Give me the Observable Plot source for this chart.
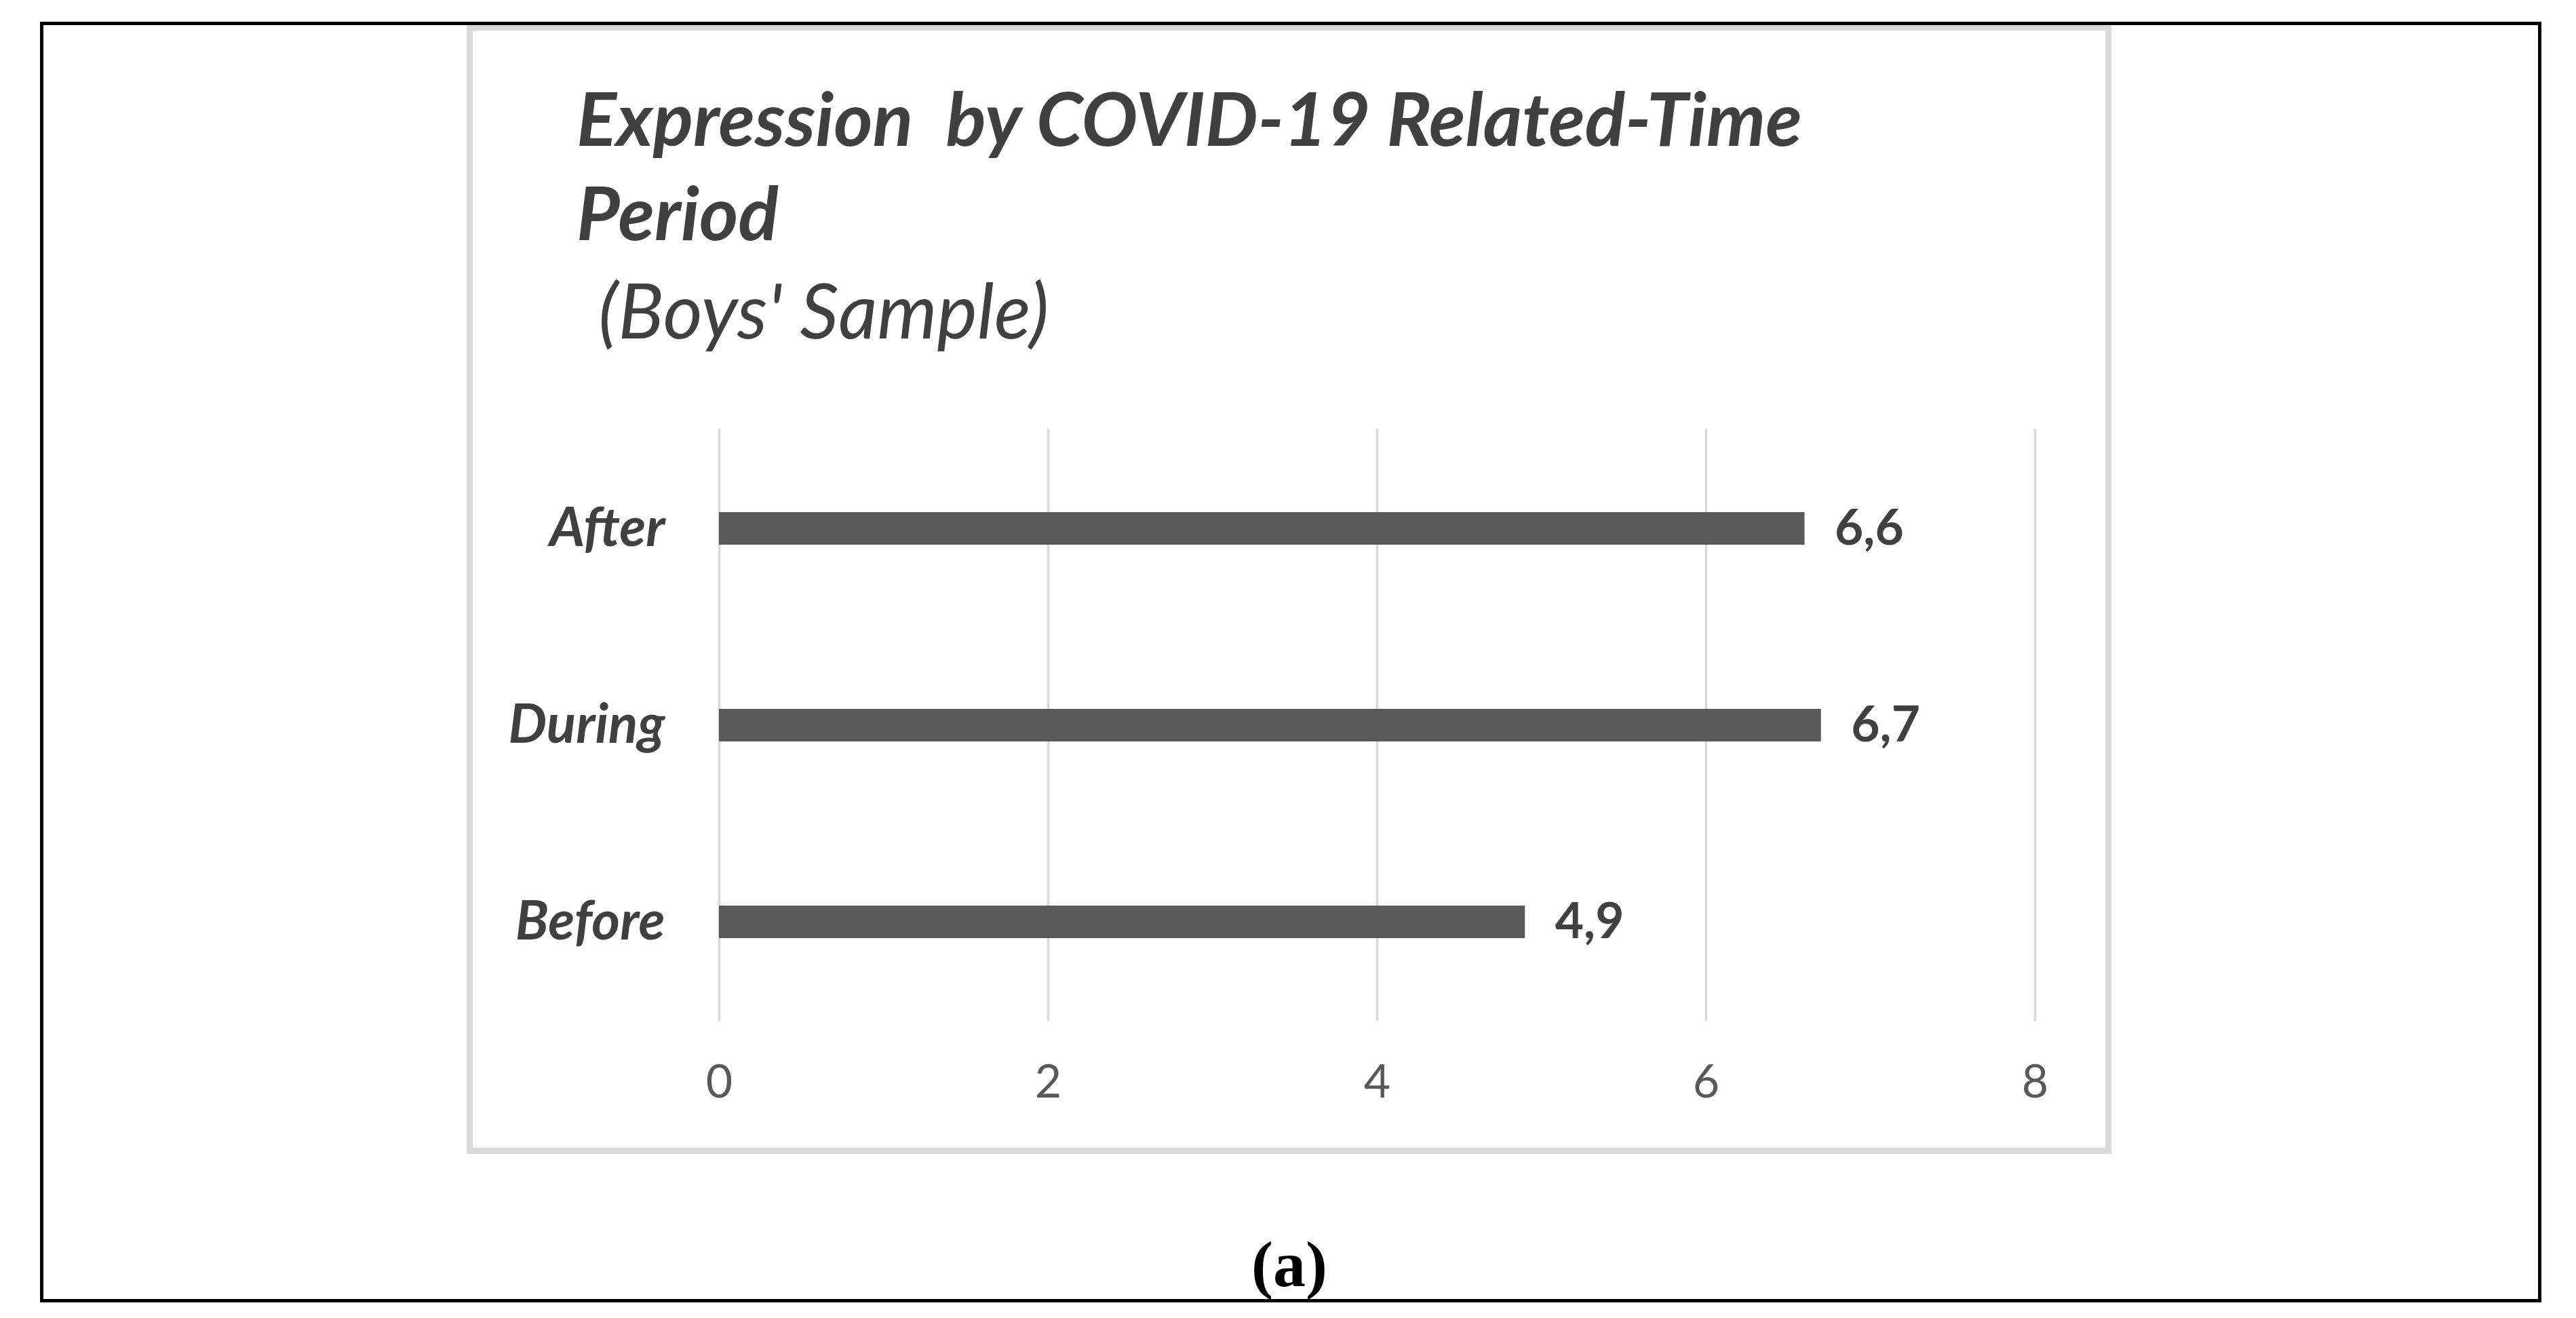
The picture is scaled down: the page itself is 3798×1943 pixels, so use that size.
<!DOCTYPE html>
<html>
<head>
<meta charset="utf-8">
<script src="https://cdn.jsdelivr.net/npm/d3@7"></script>
<script src="https://cdn.jsdelivr.net/npm/@observablehq/plot@0.6"></script>
<style>
  html, body { margin: 0; padding: 0; background: #fff; overflow: hidden; }
  #page { position: relative; width: 3798px; height: 1943px; background: #fff; }
  #chart { position: absolute; left: 0; top: 0; }
  .abs { position: absolute; white-space: pre; }
  #outer { left: 59px; top: 32px; width: 3688px; height: 1888px; border: 5px solid #000; box-sizing: border-box; }
  #inner { left: 688px; top: 36px; width: 2425px; height: 1665px; border: 9px solid #d9d9d9; box-sizing: border-box; }
  #title { left: 850px; top: 103px; font-family: Lato, sans-serif; font-weight: bold; font-style: italic; font-size: 110px; line-height: 139px; color: #404040; }
  #subtitle { left: 856px; top: 400px; font-family: Lato, sans-serif; font-style: italic; font-size: 112px; line-height: 1; color: #404040; }
  #caption { left: 1801px; top: 1816px; width: 200px; text-align: center; font-family: "Liberation Serif", serif; font-weight: bold; font-size: 96px; line-height: 1; color: #000; }
</style>
</head>
<body>
<div id="page">
  <div id="inner" class="abs"></div>
  <div id="chart"></div>
  <div id="outer" class="abs"></div>
  <div id="title" class="abs">Expression  by COVID-19 Related-Time
Period</div>
  <div id="subtitle" class="abs"> (Boys' Sample)</div>
  <div id="caption" class="abs">(a)</div>
</div>
<script>
const categories = ["After", "During", "Before"];
const values = [6.6, 6.7, 4.9];
const valueLabels = ["6,6", "6,7", "4,9"];
const xTicks = [0, 2, 4, 6, 8];

const data = categories.map((c, i) => ({category: c, value: values[i], label: valueLabels[i]}));

const chart = Plot.plot({
  width: 3798,
  height: 1943,
  marginLeft: 1060,
  marginRight: 798,
  marginTop: 632,
  marginBottom: 438,
  style: {background: "transparent", fontFamily: "Lato, sans-serif", overflow: "visible"},
  x: {domain: [0, 8], ticks: xTicks, label: null},
  y: {domain: categories, paddingInner: 0.835, paddingOuter: 0.42, label: null},
  marks: [
    Plot.ruleX(xTicks, {stroke: "#d9d9d9", strokeWidth: 3.5}),
    Plot.barX(data, {x: "value", y: "category", fill: "#595959"}),
    Plot.text(data, {x: "value", y: "category", text: "label", dx: 44, textAnchor: "start",
      fill: "#404040", fontWeight: "bold", fontSize: 73}),
    Plot.axisY({tickSize: 0, tickPadding: 80, fontSize: 80, fontWeight: "bold", fontStyle: "italic", fill: "#404040", label: null}),
    Plot.axisX(xTicks, {tickSize: 0, tickPadding: 64, fontSize: 68, fontWeight: 400, fill: "#595959", label: null, tickFormat: d => String(d)})
  ]
});
document.getElementById("chart").appendChild(chart);
</script>
</body>
</html>
